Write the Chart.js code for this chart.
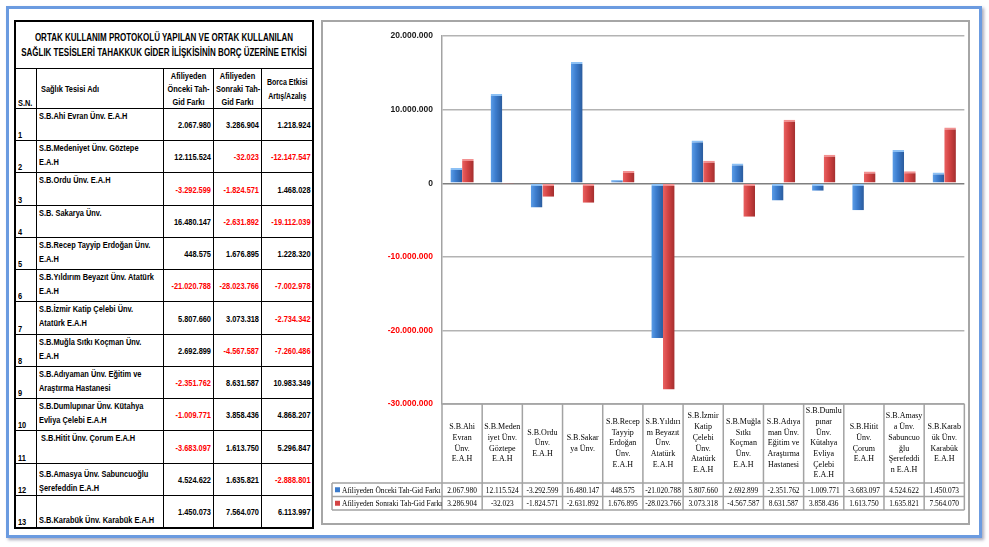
<!DOCTYPE html>
<html>
<head>
<meta charset="utf-8">
<script src="https://cdn.jsdelivr.net/npm/chart.js@4.4.1/dist/chart.umd.min.js"></script>
<style>
body{margin:0;width:989px;height:547px;background:#fff;position:relative;overflow:hidden;
  font-family:"Liberation Sans",Arial,sans-serif;}
.cerceve{position:absolute;left:6px;top:6px;width:970px;height:526px;border:3px solid #6b9be0;box-shadow:2px 2px 3px #aab;}
#tablo{position:absolute;left:14px;top:20px;width:298px;border-collapse:collapse;table-layout:fixed;border:2px solid #000;
  font-weight:bold;font-size:9.5px;color:#000;}
#tablo td{border:1px solid #000;padding:0 2px;overflow:hidden;}
#tablo .baslik{text-align:center;vertical-align:middle;font-size:10px;line-height:15px;height:46px;}
#tablo .hdr td{height:38px;}
.t{display:block;width:128.2%;transform:scaleX(0.78);transform-origin:0 50%;white-space:nowrap;}
.baslik .t{width:125%;transform:scaleX(0.8);}
.sn{vertical-align:bottom;text-align:left;}
.ad{vertical-align:top;text-align:left;line-height:14px;}
.deger{vertical-align:middle;text-align:right;}
.neg{color:#ff0000;}
.panel{position:absolute;left:321px;top:20px;width:649px;height:505px;box-sizing:border-box;border:2px solid #a6a6a6;background:#fff;}
.cwrap{position:absolute;left:0;top:0;width:645px;height:501px;}
</style>
</head>
<body>
<div class="cerceve"></div>
<table id="tablo">
  <colgroup><col style="width:21px"><col style="width:127px"><col style="width:50px"><col style="width:48px"><col style="width:52px"></colgroup>
  <tr><td colspan="5" class="baslik"><div class="t">ORTAK KULLANIM PROTOKOLÜ YAPILAN VE ORTAK KULLANILAN<br>SAĞLIK TESİSLERİ TAHAKKUK GİDER İLİŞKİSİNİN BORÇ ÜZERİNE ETKİSİ</div></td></tr>
  <tr class="hdr">
    <td class="sn"><div class="t">S.N.</div></td>
    <td style="vertical-align:middle;padding-left:4px"><div class="t">Sağlık Tesisi Adı</div></td>
    <td style="text-align:center;line-height:13px"><div class="t">Afiliyeden<br>Önceki Tah-<br>Gid Farkı</div></td>
    <td style="text-align:center;line-height:13px"><div class="t">Afiliyeden<br>Sonraki Tah-<br>Gid Farkı</div></td>
    <td style="text-align:center;line-height:14px;font-size:9px"><div class="t">Borca Etkisi<br>Artış/Azalış</div></td>
  </tr>
</table>
<div class="panel"><div class="cwrap"><canvas id="grafik"></canvas></div></div>
<script>
// kategoriler (grafik altindaki etiketler)
const kategoriler = [
  ['S.B.Ahi', 'Evran', 'Ünv.', 'E.A.H'],
  ['S.B.Meden', 'iyet Ünv.', 'Göztepe', 'E.A.H'],
  ['S.B.Ordu', 'Ünv.', 'E.A.H'],
  ['S.B.Sakar', 'ya Ünv.'],
  ['S.B.Recep', 'Tayyip', 'Erdoğan', 'Ünv.', 'E.A.H'],
  ['S.B.Yıldırı', 'm Beyazıt', 'Ünv.', 'Atatürk', 'E.A.H'],
  ['S.B.İzmir', 'Katip', 'Çelebi', 'Ünv.', 'Atatürk', 'E.A.H'],
  ['S.B.Muğla', 'Sıtkı', 'Koçman', 'Ünv.', 'E.A.H'],
  ['S.B.Adıya', 'man Ünv.', 'Eğitim ve', 'Araştırma', 'Hastanesi'],
  ['S.B.Dumlu', 'pınar', 'Ünv.', 'Kütahya', 'Evliya', 'Çelebi', 'E.A.H'],
  ['S.B.Hitit', 'Ünv.', 'Çorum', 'E.A.H'],
  ['S.B.Amasy', 'a Ünv.', 'Sabuncuo', 'ğlu', 'Şerefeddi', 'n E.A.H'],
  ['S.B.Karab', 'ük Ünv.', 'Karabük', 'E.A.H']
];
// soldaki tablodaki isimler
const tesisAdlari = [
  ['S.B.Ahi Evran Ünv. E.A.H'],
  ['S.B.Medeniyet Ünv. Göztepe', 'E.A.H'],
  ['S.B.Ordu Ünv. E.A.H'],
  ['S.B. Sakarya Ünv.'],
  ['S.B.Recep Tayyip Erdoğan Ünv.', 'E.A.H'],
  ['S.B.Yıldırım Beyazıt Ünv. Atatürk', 'E.A.H'],
  ['S.B.İzmir Katip Çelebi Ünv.', 'Atatürk E.A.H'],
  ['S.B.Muğla Sıtkı Koçman Ünv.', 'E.A.H'],
  ['S.B.Adıyaman Ünv. Eğitim ve', 'Araştırma Hastanesi'],
  ['S.B.Dumlupınar Ünv. Kütahya', 'Evliya Çelebi E.A.H'],
  ['\u00a0S.B.Hitit Ünv. Çorum E.A.H'],
  ['S.B.Amasya Ünv. Sabuncuoğlu', 'Şerefeddin E.A.H'],
  ['S.B.Karabük Ünv. Karabük E.A.H']
];
const oncekiFark = [2067980, 12115524, -3292599, 16480147, 448575, -21020788, 5807660, 2692899, -2351762, -1009771, -3683097, 4524622, 1450073];
const sonrakiFark = [3286904, -32023, -1824571, -2631892, 1676895, -28023766, 3073318, -4567587, 8631587, 3858436, 1613750, 1635821, 7564070];
const borcaEtkisi = [1218924, -12147547, 1468028, -19112039, 1228320, -7002978, -2734342, -7260486, 10983349, 4868207, 5296847, -2888801, 6113997];
const seriAdlari = ['Afiliyeden Önceki Tah-Gid Farkı', 'Afiliyeden Sonraki Tah-Gid Farkı'];
const yEksenDegerleri = [20000000, 10000000, 0, -10000000, -20000000, -30000000];

function noktali(n) {
  const s = Math.abs(n).toString().replace(/\B(?=(\d{3})+(?!\d))/g, '.');
  return n < 0 ? '-' + s : s;
}

function hucre(sinif, html) {
  const td = document.createElement('td');
  td.className = sinif;
  const d = document.createElement('div');
  d.className = 't';
  d.innerHTML = html;
  td.appendChild(d);
  return td;
}

// sol tablo
const tablo = document.getElementById('tablo');
tesisAdlari.forEach((ad, i) => {
  const tr = document.createElement('tr');
  const h = Math.round(108 + 419 * (i + 1) / 13) - Math.round(108 + 419 * i / 13);
  tr.style.height = h + 'px';
  tr.appendChild(hucre('sn', String(i + 1)));
  const adTd = hucre('ad', ad.join('<br>'));
  if (i >= 11) adTd.style.verticalAlign = 'bottom';
  tr.appendChild(adTd);
  [oncekiFark[i], sonrakiFark[i], borcaEtkisi[i]].forEach(v => {
    tr.appendChild(hucre('deger' + (v < 0 ? ' neg' : ''), noktali(v)));
  });
  tablo.appendChild(tr);
});

// cubuk dolgusu (hafif 3 boyutlu gorunum)
function dolgu(c, renk) {
  const chart = c.chart;
  const xs = chart.scales.x;
  if (!chart.chartArea || !xs || c.type !== 'data') return renk[1];
  const w = xs.width / kategoriler.length * 0.58 / 2;
  const cx = xs.getPixelForValue(c.dataIndex);
  const x0 = c.datasetIndex === 0 ? cx - w : cx;
  const g = chart.ctx.createLinearGradient(x0, 0, x0 + w, 0);
  g.addColorStop(0, renk[0]);
  g.addColorStop(0.45, renk[1]);
  g.addColorStop(1, renk[2]);
  return g;
}
const mavi = ['#5c9ee8', '#3b7bcc', '#2a5b9c'];
const kirmizi = ['#ea6262', '#d34343', '#a32e2e'];

const seriFont = "'Liberation Serif', 'DejaVu Serif', serif";

// grafigin altindaki veri tablosu
const veriTablosu = {
  id: 'veriTablosu',
  afterDraw(chart) {
    const { ctx, chartArea: a } = chart;
    const n = kategoriler.length;
    const cw = (a.right - a.left) / n;
    const ust = a.bottom + 79, rh = 13.5, lx = 9;
    ctx.save();
    ctx.strokeStyle = '#a3a3a3';
    ctx.lineWidth = 1.5;
    ctx.beginPath();
    for (let i = 0; i <= n; i++) {
      const px = a.left + i * cw;
      ctx.moveTo(px, a.bottom);
      ctx.lineTo(px, ust + 2 * rh);
    }
    ctx.moveTo(lx, ust);
    ctx.lineTo(lx, ust + 2 * rh);
    ctx.moveTo(a.left, a.bottom);
    ctx.lineTo(a.right, a.bottom);
    for (let r = 0; r <= 2; r++) {
      ctx.moveTo(lx, ust + r * rh);
      ctx.lineTo(a.right, ust + r * rh);
    }
    ctx.stroke();

    ctx.textBaseline = 'middle';
    ctx.font = '9px ' + seriFont;
    const seriler = [oncekiFark, sonrakiFark];
    seriler.forEach((veri, r) => {
      const y = ust + r * rh + rh / 2 + 0.5;
      ctx.fillStyle = r === 0 ? '#3b7bcc' : '#d34343';
      ctx.fillRect(lx + 3, y - 3, 5, 5);
      ctx.fillStyle = '#000';
      ctx.save();
      ctx.translate(lx + 10, y);
      ctx.scale(0.82, 1);
      ctx.textAlign = 'left';
      ctx.fillText(seriAdlari[r], 0, 0);
      ctx.restore();
      veri.forEach((v, i) => {
        ctx.save();
        ctx.translate(a.left + (i + 0.5) * cw, y);
        ctx.scale(0.82, 1);
        ctx.textAlign = 'center';
        ctx.fillText(noktali(v), 0, 0);
        ctx.restore();
      });
    });
    ctx.restore();
  }
};

new Chart(document.getElementById('grafik'), {
  type: 'bar',
  data: {
    labels: kategoriler,
    datasets: [{
      label: seriAdlari[0],
      data: oncekiFark,
      backgroundColor: c => dolgu(c, mavi),
      borderColor: '#8cc0f4',
      borderWidth: { top: 2, left: 0, right: 0, bottom: 0 },
      borderSkipped: false
    }, {
      label: seriAdlari[1],
      data: sonrakiFark,
      backgroundColor: c => dolgu(c, kirmizi),
      borderColor: '#f29090',
      borderWidth: { top: 2, left: 0, right: 0, bottom: 0 },
      borderSkipped: false
    }]
  },
  options: {
    responsive: true,
    maintainAspectRatio: false,
    animation: false,
    categoryPercentage: 0.58,
    barPercentage: 1,
    layout: { padding: { top: 6, right: 2, left: 0, bottom: 0 } },
    plugins: { legend: { display: false }, tooltip: { enabled: false } },
    scales: {
      x: {
        offset: true,
        grid: { display: false, drawTicks: false },
        border: { display: false },
        ticks: {
          autoSkip: false,
          maxRotation: 0,
          minRotation: 0,
          crossAlign: 'center',
          padding: 7,
          color: '#000',
          font: { family: seriFont, size: 8, lineHeight: 1.34 }
        },
        afterFit: s => { s.height = 119; }
      },
      y: {
        min: Math.min(...yEksenDegerleri),
        max: Math.max(...yEksenDegerleri),
        afterBuildTicks: s => { s.ticks = yEksenDegerleri.map(v => ({ value: v })); },
        afterFit: s => { s.width = 119; },
        grid: {
          drawTicks: false,
          color: c => c.tick && c.tick.value === 0 ? '#7f7f7f' : '#b3b3b3',
          lineWidth: 1.5
        },
        border: { display: true, color: '#a3a3a3', width: 1.5 },
        ticks: {
          padding: 9,
          color: c => c.tick.value < 0 ? '#ff0000' : '#1a1a1a',
          font: { family: "'Liberation Sans', Arial, sans-serif", size: 8.5, weight: 'bold' },
          callback: v => noktali(v)
        }
      }
    }
  },
  plugins: [veriTablosu]
});
</script>
</body>
</html>
